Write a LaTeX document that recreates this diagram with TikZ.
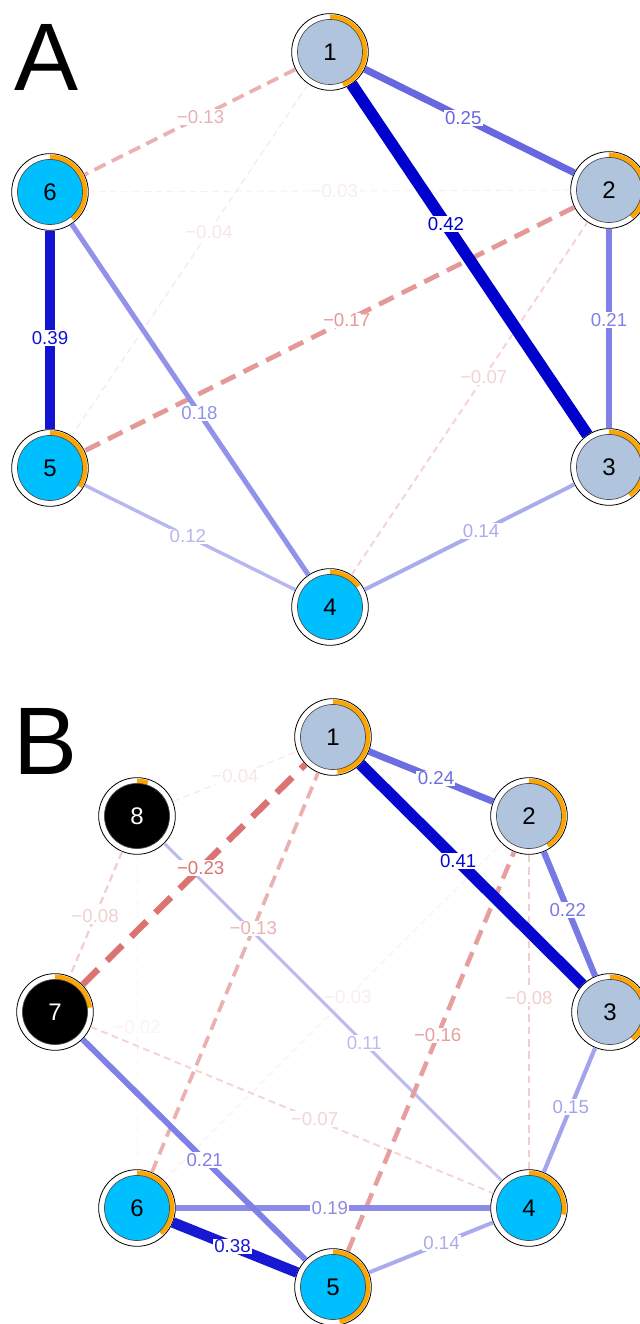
\documentclass[tikz,border=0pt]{standalone}
\usepackage{fontspec}
\setmainfont{Liberation Sans}
\usepackage{xcolor}
\usepackage{tikz}
\definecolor{stateblue}{RGB}{176,196,222}
\definecolor{traitblue}{RGB}{0,191,255}
\definecolor{ringorange}{RGB}{255,165,0}
\definecolor{edgeblue}{RGB}{0,0,205}
\definecolor{edgered}{RGB}{191,0,0}
\tikzset{
  core/.code={\def\corefill{#1}},
  share/.code={\def\ringshare{#1}},
  posedge/.code={\pgfmathsetmacro\eshade{min(100,#1*100/42)}\pgfmathsetmacro\ewidth{#1*0.21}%
    \tikzset{draw=edgeblue!\eshade!white,text=edgeblue!\eshade!white,line width=\ewidth pt}},
  negedge/.code={\pgfmathsetmacro\eshade{min(100,#1*100/42)}\pgfmathsetmacro\ewidth{#1*0.21}%
    \pgfmathsetmacro\dashon{max(5,3.4*\ewidth)}\pgfmathsetmacro\dashoff{max(3.5,1.9*\ewidth)}%
    \tikzset{draw=edgered!\eshade!white,text=edgered!\eshade!white,line width=\ewidth pt,
      dash pattern=on \dashon pt off \dashoff pt}},
}
\begin{document}
\begin{tikzpicture}[x=0.75pt,y=0.75pt]
\tikzstyle{varnode}=[circle,draw=black,line width=0.6pt,fill=white,minimum size=57.5pt,inner sep=0pt,
  font=\fontsize{18}{18}\selectfont,
  path picture={
    \draw[draw=ringorange,line width=3.6pt] (path picture bounding box.center) ++(90:26.2pt)
      arc[start angle=90,end angle={90-360*\ringshare},radius=26.2pt];
    \draw[draw=black!70,line width=0.5pt,fill=\corefill] (path picture bounding box.center) circle (24.4pt);
  }]
\tikzstyle{wlabel}=[fill=white,inner sep=1pt,font=\fontsize{14}{14}\selectfont]
\tikzstyle{panel}=[font=\fontsize{72}{72}\selectfont,inner sep=0pt]
\useasboundingbox (0,0) rectangle (639,1324);
\fill[white] (0,0) rectangle (639,1324);

% panel A
\node[panel] (panelA) at (47,1267) {A};
\node[varnode,core=stateblue,share=0.44] (A1) at (330,1272) {1};
\node[varnode,core=stateblue,share=0.39] (A2) at (609,1134) {2};
\node[varnode,core=stateblue,share=0.40] (A3) at (609,857) {3};
\node[varnode,core=traitblue,share=0.15] (A4) at (330,717) {4};
\node[varnode,core=traitblue,share=0.34] (A5) at (50,856) {5};
\node[varnode,core=traitblue,share=0.39] (A6) at (50,1132) {6};
\draw[negedge=3] (A2) -- node[wlabel,pos=0.49] {−0.03} (A6);
\draw[negedge=4] (A1) -- node[wlabel,pos=0.42] {−0.04} (A5);
\draw[negedge=7] (A4) -- node[wlabel,pos=0.56] {−0.07} (A2);
\draw[posedge=12] (A4) -- node[wlabel,pos=0.51] {0.12} (A5);
\draw[negedge=13] (A1) -- node[wlabel,pos=0.45] {−0.13} (A6);
\draw[posedge=14] (A3) -- node[wlabel,pos=0.445] {0.14} (A4);
\draw[negedge=17] (A2) -- node[wlabel,pos=0.465] {−0.17} (A5);
\draw[posedge=18] (A6) -- node[wlabel,pos=0.54] {0.18} (A4);
\draw[posedge=21] (A2) -- node[wlabel,pos=0.458] {0.21} (A3);
\draw[posedge=25] (A1) -- node[wlabel,pos=0.47] {0.25} (A2);
\draw[posedge=39] (A6) -- node[wlabel,pos=0.54] {0.39} (A5);
\draw[posedge=42] (A1) -- node[wlabel,pos=0.40] {0.42} (A3);

% panel B
\node[panel] (panelB) at (46,583) {B};
\node[varnode,core=stateblue,share=0.48] (B1) at (333,587) {1};
\node[varnode,core=stateblue,share=0.41] (B2) at (529,508) {2};
\node[varnode,core=stateblue,share=0.39] (B3) at (610,312) {3};
\node[varnode,core=traitblue,share=0.28] (B4) at (529,116) {4};
\node[varnode,core=traitblue,share=0.47] (B5) at (333,37) {5};
\node[varnode,core=traitblue,share=0.38] (B6) at (137,116) {6};
\node[varnode,core=black,share=0.23,text=white] (B7) at (55,312) {7};
\node[varnode,core=black,share=0.05,text=white] (B8) at (137,508) {8};
\draw[negedge=2] (B8) -- node[wlabel,pos=0.547] {−0.02} (B6);
\draw[negedge=3] (B6) -- node[wlabel,pos=0.544] {−0.03} (B2);
\draw[negedge=4] (B8) -- node[wlabel,pos=0.50] {−0.04} (B1);
\draw[negedge=7] (B7) -- node[wlabel,pos=0.556] {−0.07} (B4);
\draw[negedge=8] (B8) -- node[wlabel,pos=0.517] {−0.08} (B7);
\draw[negedge=8] (B2) -- node[wlabel,pos=0.456] {−0.08} (B4);
\draw[posedge=11] (B8) -- node[wlabel,pos=0.593] {0.11} (B4);
\draw[negedge=13] (B6) -- node[wlabel,pos=0.61] {−0.13} (B1);
\draw[posedge=14] (B4) -- node[wlabel,pos=0.415] {0.14} (B5);
\draw[posedge=15] (B3) -- node[wlabel,pos=0.476] {0.15} (B4);
\draw[negedge=16] (B5) -- node[wlabel,pos=0.54] {−0.16} (B2);
\draw[posedge=19] (B6) -- node[wlabel,pos=0.49] {0.19} (B4);
\draw[posedge=21] (B7) -- node[wlabel,pos=0.548] {0.21} (B5);
\draw[posedge=22] (B2) -- node[wlabel,pos=0.466] {0.22} (B3);
\draw[negedge=23] (B7) -- node[wlabel,pos=0.53] {−0.23} (B1);
\draw[posedge=24] (B1) -- node[wlabel,pos=0.54] {0.24} (B2);
\draw[posedge=38] (B6) -- node[wlabel,pos=0.48] {0.38} (B5);
\draw[posedge=41] (B1) -- node[wlabel,pos=0.44] {0.41} (B3);
\end{tikzpicture}
\end{document}
